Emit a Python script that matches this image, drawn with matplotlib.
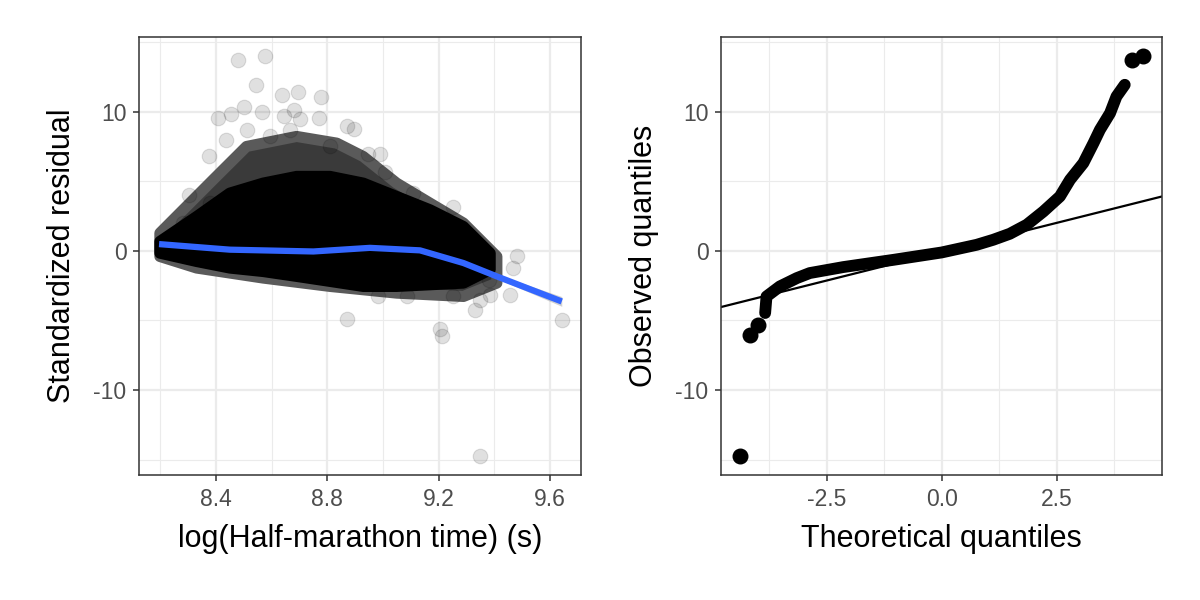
import numpy as np
import matplotlib.pyplot as plt

plt.rcParams['font.family'] = ['Liberation Sans', 'DejaVu Sans']

# left panel: residual cloud (dense core + lighter halo)
core_x = [8.199, 8.331, 8.450, 8.570, 8.690, 8.810, 8.929, 9.049, 9.169, 9.289, 9.385,
          9.385, 9.289, 9.169, 9.049, 8.929, 8.810, 8.690, 8.570, 8.450, 8.331, 8.199]
core_y = [0.67, 2.46, 4.14, 4.86, 5.34, 5.34, 4.86, 3.90, 2.94, 1.74, -0.17,
          -1.36, -2.32, -2.44, -2.56, -2.56, -2.20, -1.84, -1.49, -1.24, -0.77, -0.17]
halo_x = [8.199, 8.390, 8.510, 8.690, 8.834, 8.929, 9.049, 9.169, 9.289, 9.409,
          9.409, 9.289, 9.049, 8.810, 8.570, 8.331, 8.199]
halo_y = [1.27, 5.10, 7.49, 8.21, 7.73, 6.77, 4.86, 3.42, 1.99, -0.41,
          -2.32, -3.28, -3.04, -2.56, -1.96, -1.24, -0.41]
out_x = [8.480, 8.576, 8.544, 8.636, 8.696, 8.777, 8.408, 8.456, 8.501, 8.564, 8.644,
         8.681, 8.702, 8.771, 8.870, 8.896, 8.375, 8.947, 8.989, 9.007, 8.304, 9.107,
         9.251, 9.480, 9.468, 9.456, 9.385, 9.349, 9.331, 9.382, 8.872, 9.205, 9.213,
         9.349, 9.642, 8.983, 9.085, 9.253, 8.438, 8.510, 8.594, 8.666, 8.810, 8.282, 8.378]
out_y = [13.71, 14.00, 11.92, 11.20, 11.37, 11.01, 9.52, 9.83, 10.31, 9.93, 9.69,
         10.12, 9.45, 9.52, 8.97, 8.73, 6.82, 6.96, 6.96, 5.69, 3.97, 4.14,
         3.14, -0.41, -1.24, -3.21, -3.16, -3.52, -4.28, -2.08, -4.90, -5.60, -6.10,
         -14.77, -4.95, -3.28, -3.28, -3.28, 7.97, 8.69, 8.21, 8.69, 7.49, 1.99, 3.42]
smooth_x = [8.196, 8.450, 8.750, 8.953, 9.133, 9.289, 9.409, 9.642]
smooth_y = [0.48, 0.08, -0.05, 0.21, 0.03, -0.88, -1.84, -3.64]
smooth_se = [0.12, 0.05, 0.05, 0.05, 0.06, 0.1, 0.15, 0.35]

# right panel: normal QQ points
qq_x = [-3.84, -3.81, -3.52, -3.15, -2.87, -2.14, -1.05, 0.0, 0.76, 1.12, 1.48, 1.85,
        2.21, 2.57, 2.79, 3.08, 3.30, 3.44, 3.66, 3.80, 3.98]
qq_y = [-4.47, -3.28, -2.56, -1.96, -1.60, -1.17, -0.65, -0.12, 0.43, 0.79, 1.22, 1.87,
        2.82, 3.90, 5.10, 6.30, 7.73, 8.69, 9.88, 11.08, 11.92]
qq_lone_x = [-4.38, -4.16, -4.0, 4.13, 4.38]
qq_lone_y = [-14.77, -6.03, -5.3, 13.71, 14.00]
ref_x = [-4.80, 4.79]
ref_y = [-4.04, 3.90]

fig = plt.figure(figsize=(12, 6), dpi=100)
ax1 = fig.add_axes([139/1200, 125/600, 441.7/1200, 438/600])
ax2 = fig.add_axes([721/1200, 125/600, 441/1200, 438/600])

def style(ax, xmaj, xmin, xlab, ylab, xlim):
    ax.set_xlim(*xlim)
    ax.set_ylim(-16.1, 15.35)
    ax.set_xticks(xmaj)
    ax.set_xticks(xmin, minor=True)
    ax.set_yticks([-10, 0, 10])
    ax.set_yticks([-15, -5, 5, 15], minor=True)
    ax.set_yticklabels(["-10", "0", "10"])
    ax.grid(True, which='major', color='#EBEBEB', lw=1.6)
    ax.grid(True, which='minor', color='#EBEBEB', lw=0.8)
    ax.set_axisbelow(True)
    for s in ax.spines.values():
        s.set_color('#333333')
        s.set_linewidth(1.1)
    ax.tick_params(which='major', length=4, width=1.1, color='#333333',
                   labelsize=16.5, labelcolor='#4D4D4D', pad=5)
    ax.tick_params(which='minor', length=0)
    ax.set_xlabel(xlab, fontsize=22, labelpad=10)
    ax.set_ylabel(ylab, fontsize=22, labelpad=12)

style(ax1, [8.4, 8.8, 9.2, 9.6], [8.2, 8.6, 9.0, 9.4],
      "log(Half-marathon time) (s)", "Standardized residual", (8.124, 9.710))
ax1.set_xticklabels(["8.4", "8.8", "9.2", "9.6"])
ax1.fill(halo_x, halo_y, fc='#3a3a3a', lw=8, ec='#5a5a5a', joinstyle='round')
ax1.fill(core_x, core_y, color='black', lw=8, ec='black', joinstyle='round')
ax1.scatter(out_x, out_y, s=110, color='black', alpha=0.12, lw=0.8, ec='black')
lo = np.array(smooth_y) - np.array(smooth_se)
hi = np.array(smooth_y) + np.array(smooth_se)
ax1.fill_between(smooth_x, lo, hi, color='#999999', alpha=0.45, lw=0)
ax1.plot(smooth_x, smooth_y, color='#3366FF', lw=4.5, solid_capstyle='butt')

style(ax2, [-2.5, 0.0, 2.5], [-3.75, -1.25, 1.25, 3.75],
      "Theoretical quantiles", "Observed quantiles", (-4.80, 4.79))
ax2.set_xticklabels(["-2.5", "0.0", "2.5"])
ax2.plot(ref_x, ref_y, color='black', lw=1.6)
ax2.plot(qq_x, qq_y, color='black', lw=8.5, solid_capstyle='round', solid_joinstyle='round')
ax2.scatter(qq_lone_x, qq_lone_y, s=110, color='black', zorder=3)

fig.savefig("out.png", dpi=100)
